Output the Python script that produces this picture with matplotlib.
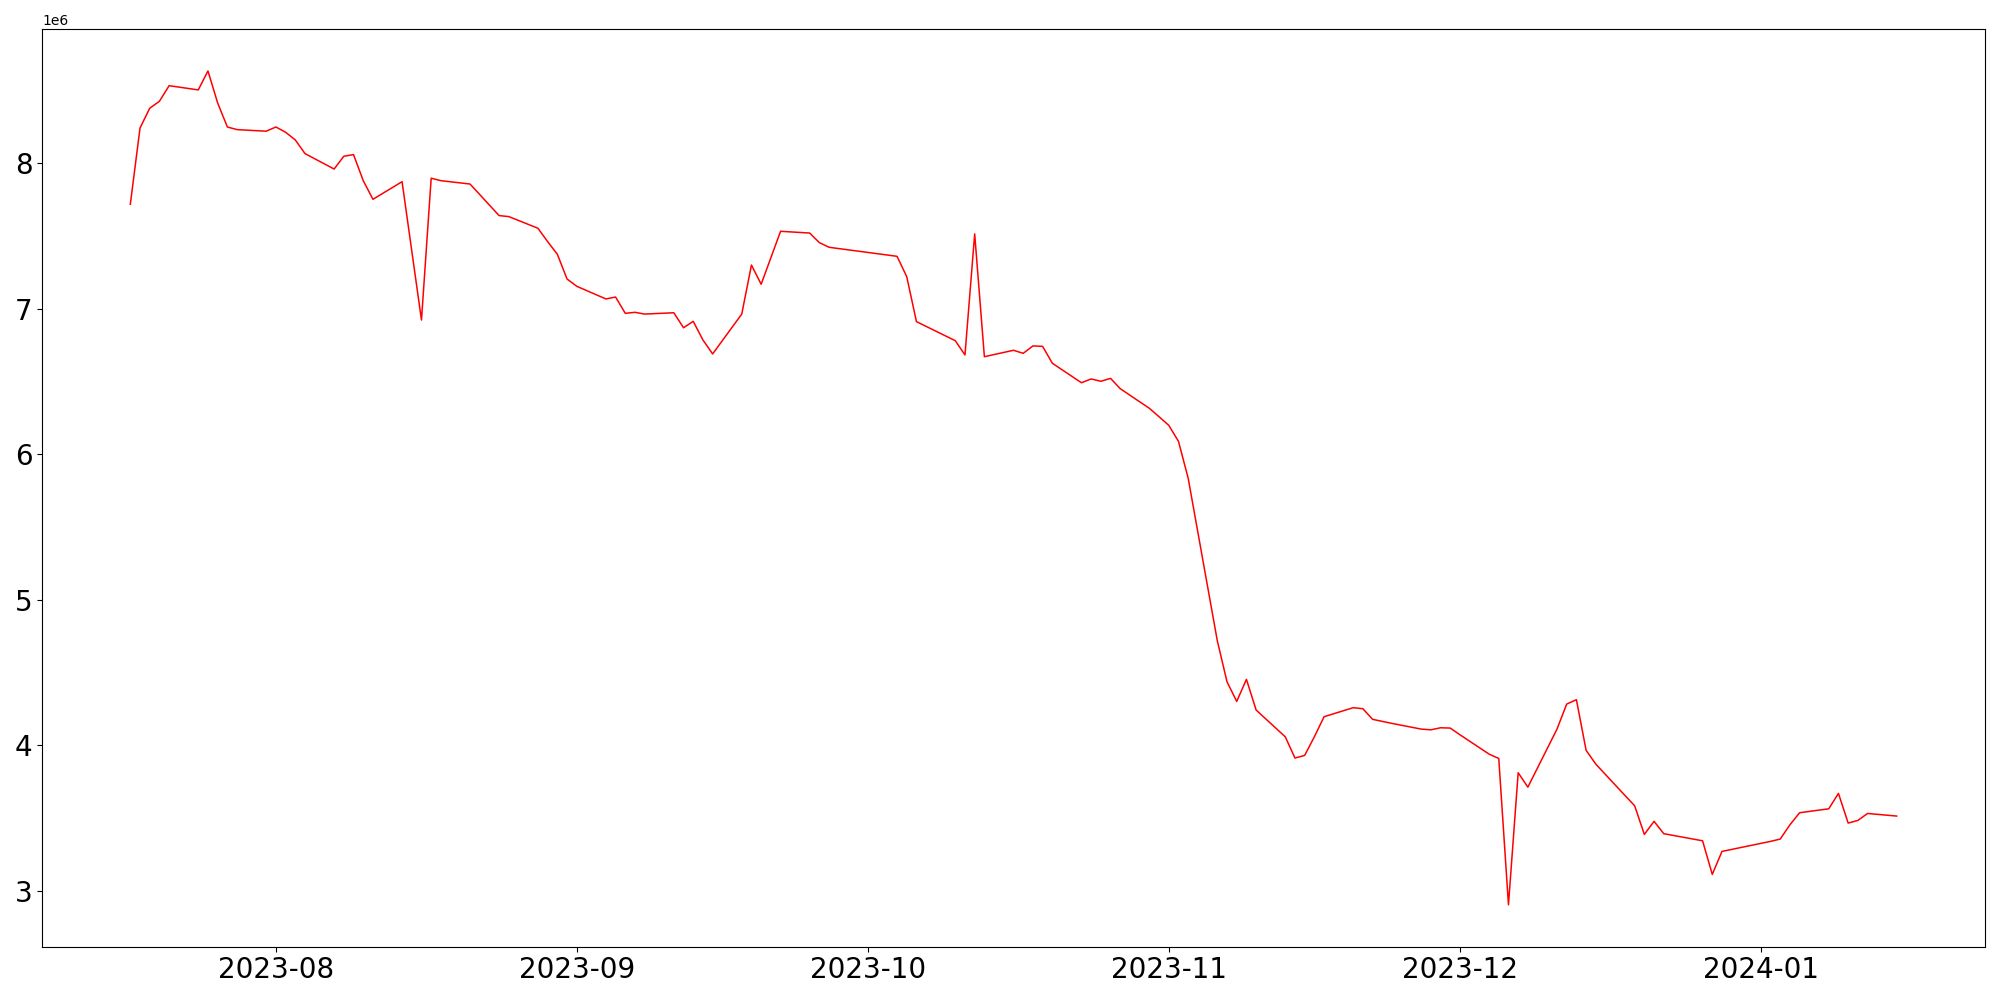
import matplotlib
matplotlib.use("Agg")
import matplotlib.pyplot as plt
import matplotlib.dates as mdates
import pandas as pd

dates = [
    "2023-07-17", "2023-07-18", "2023-07-19", "2023-07-20", "2023-07-21",
    "2023-07-24", "2023-07-25", "2023-07-26", "2023-07-27", "2023-07-28",
    "2023-07-31", "2023-08-01", "2023-08-02", "2023-08-03", "2023-08-04",
    "2023-08-07", "2023-08-08", "2023-08-09", "2023-08-10", "2023-08-11",
    "2023-08-14", "2023-08-16", "2023-08-17", "2023-08-18",
    "2023-08-21", "2023-08-22", "2023-08-23", "2023-08-24", "2023-08-25",
    "2023-08-28", "2023-08-29", "2023-08-30", "2023-08-31", "2023-09-01",
    "2023-09-04", "2023-09-05", "2023-09-06", "2023-09-07", "2023-09-08",
    "2023-09-11", "2023-09-12", "2023-09-13", "2023-09-14", "2023-09-15",
    "2023-09-18", "2023-09-19", "2023-09-20", "2023-09-21", "2023-09-22",
    "2023-09-25", "2023-09-26", "2023-09-27",
    "2023-10-04", "2023-10-05", "2023-10-06",
    "2023-10-10", "2023-10-11", "2023-10-12", "2023-10-13",
    "2023-10-16", "2023-10-17", "2023-10-18", "2023-10-19", "2023-10-20",
    "2023-10-23", "2023-10-24", "2023-10-25", "2023-10-26", "2023-10-27",
    "2023-10-30", "2023-10-31", "2023-11-01", "2023-11-02", "2023-11-03",
    "2023-11-06", "2023-11-07", "2023-11-08", "2023-11-09", "2023-11-10",
    "2023-11-13", "2023-11-14", "2023-11-15", "2023-11-16", "2023-11-17",
    "2023-11-20", "2023-11-21", "2023-11-22", "2023-11-23", "2023-11-24",
    "2023-11-27", "2023-11-28", "2023-11-29", "2023-11-30", "2023-12-01",
    "2023-12-04", "2023-12-05", "2023-12-06", "2023-12-07", "2023-12-08",
    "2023-12-11", "2023-12-12", "2023-12-13", "2023-12-14", "2023-12-15",
    "2023-12-18", "2023-12-19", "2023-12-20", "2023-12-21", "2023-12-22",
    "2023-12-26", "2023-12-27", "2023-12-28",
    "2024-01-02", "2024-01-03", "2024-01-04", "2024-01-05",
    "2024-01-08", "2024-01-09", "2024-01-10", "2024-01-11", "2024-01-12",
    "2024-01-15",
]

values_m = [
    7.719, 8.243, 8.379, 8.427, 8.534,
    8.505, 8.635, 8.415, 8.250, 8.232,
    8.221, 8.250, 8.214, 8.161, 8.067,
    7.961, 8.049, 8.060, 7.881, 7.753,
    7.874, 6.923, 7.898, 7.881,
    7.858, 7.786, 7.713, 7.641, 7.634,
    7.554, 7.462, 7.375, 7.205, 7.155,
    7.068, 7.081, 6.969, 6.976, 6.964,
    6.973, 6.870, 6.914, 6.786, 6.690,
    6.964, 7.301, 7.169, 7.351, 7.533,
    7.521, 7.455, 7.423,
    7.361, 7.221, 6.912,
    6.781, 6.683, 7.515, 6.671,
    6.715, 6.694, 6.745, 6.742, 6.626,
    6.492, 6.518, 6.502, 6.522, 6.451,
    6.316, 6.258, 6.199, 6.089, 5.835,
    4.718, 4.436, 4.301, 4.453, 4.242,
    4.058, 3.912, 3.930, 4.058, 4.196,
    4.258, 4.251, 4.178, 4.164, 4.150,
    4.111, 4.106, 4.120, 4.118, 4.072,
    3.939, 3.909, 2.903, 3.811, 3.712,
    4.111, 4.283, 4.313, 3.965, 3.870,
    3.655, 3.584, 3.387, 3.477, 3.392,
    3.343, 3.112, 3.270,
    3.339, 3.355, 3.453, 3.536,
    3.563, 3.669, 3.465, 3.483, 3.531,
    3.513,
]

x = pd.to_datetime(dates)
y = [v * 1e6 for v in values_m]

fig = plt.figure(figsize=(20, 10), dpi=100)
ax = fig.add_axes([0.021, 0.0535, 0.9715, 0.9172])
ax.plot(x, y, color="red", linewidth=1.1)

ax.xaxis.set_major_locator(mdates.MonthLocator())
ax.xaxis.set_major_formatter(mdates.DateFormatter("%Y-%m"))
ax.tick_params(axis="both", labelsize=20)
ax.yaxis.get_offset_text().set_fontsize(10)

fig.savefig("out.png", dpi=100)
